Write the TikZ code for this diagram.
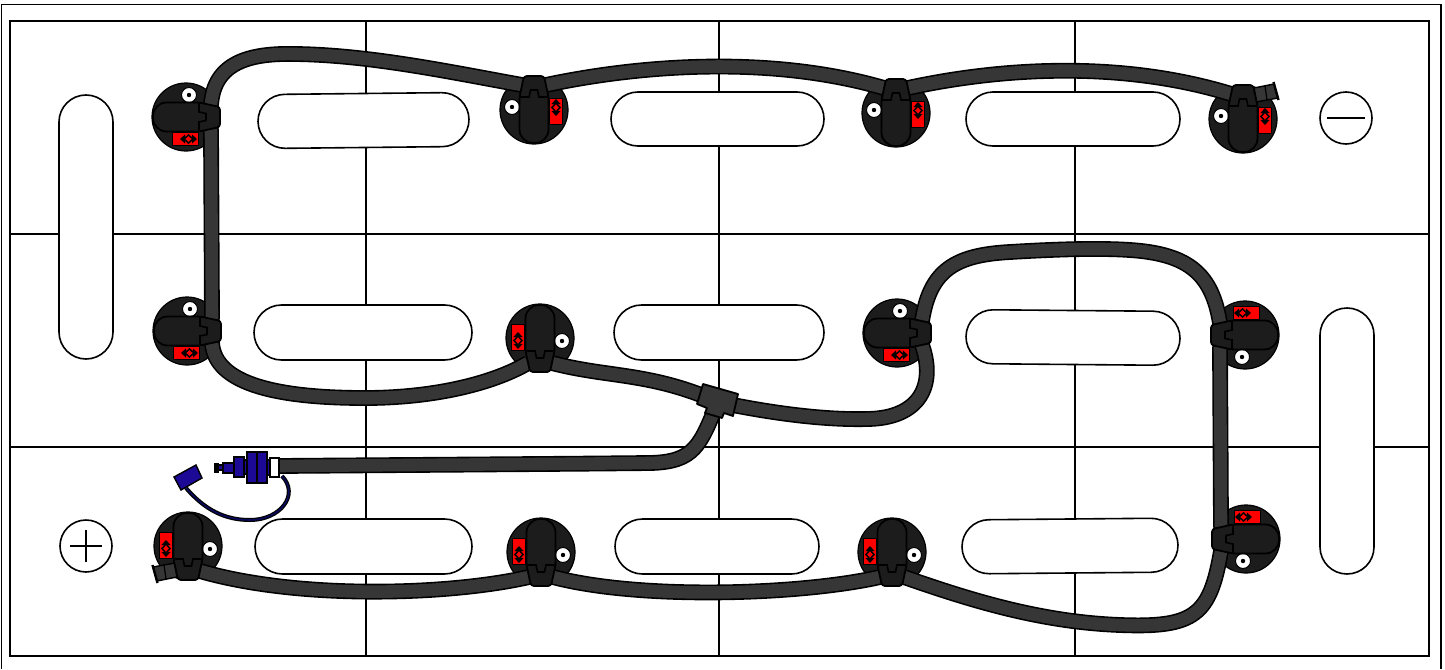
\documentclass[tikz,border=0pt]{standalone}
\usetikzlibrary{shapes.misc}
\definecolor{cablegray}{HTML}{363636}
\definecolor{gripblack}{HTML}{1C1C1C}
\definecolor{plugblue}{HTML}{1C0A96}
\definecolor{wirenavy}{HTML}{0A0A5A}
\tikzset{
  slot/.style={draw, fill=white, line width=1.6pt, rounded rectangle, inner sep=0pt},
  symbol/.style={draw, fill=white, line width=1.6pt, circle, inner sep=0pt, minimum size=52pt},
  cable/.style={line width=1.6pt, double=cablegray, double distance=12.6pt},
  wire/.style={line width=1.2pt, double=wirenavy, double distance=1.6pt},
  bluepart/.style={draw, fill=plugblue, line width=1.4pt},
  grip/.style={draw, fill=gripblack, line width=1.8pt, line join=round},
  postbase/.pic={
    \fill[gripblack, draw=black, line width=1.2pt] (0,0) circle [radius=34pt];
    \fill[red] (15.5,-12) rectangle (28.5,14);
    \draw[line width=0.6pt] (15.5,-12) rectangle (28.5,14);
    \fill (22,-11) -- (26.5,-6) -- (17.5,-6) -- cycle;
    \fill (22,6) -- (26.5,1) -- (17.5,1) -- cycle;
    \draw[line width=1.5pt] (22,-7) -- (26,-2.5) -- (22,2) -- (18,-2.5) -- cycle;
    \draw[fill=white, draw=black, line width=1pt] (-22,-3) circle [radius=7.5pt];
    \fill (-22,-3) circle [radius=2.2pt];
    \coordinate (-a) at (-12,-25);
    \coordinate (-b) at (12,-25);
  },
  postgrip/.pic={
    \draw[grip] [rounded corners=3pt] (-10,-34) -- (10,-34) -- (14.5,-13)
      [rounded corners=13.5pt] -- (14.5,33) -- (-14.5,33)
      [rounded corners=3pt] -- (-14.5,-13) -- cycle;
    \draw[line width=1.6pt] (-14.5,-13) -- (-4,-13);
    \draw[line width=1.6pt] (4,-13) -- (14.5,-13);
    \draw[line width=1.6pt] (-5,-13) -- (-3.5,-20) -- (3.5,-20) -- (5,-13);
  },
  postend/.pic={
    \draw[fill=cablegray, line width=1.4pt] (11,-31) -- (31,-35) -- (35,-21) -- (13,-17) -- cycle;
    \draw[line width=1.2pt] (22,-33) -- (24,-19);
    \draw[line width=2.4pt] (30.5,-37) -- (35.5,-19);
  },
}
% name/x/y/turn
\newcommand{\postlist}{p1/186/117/-90, p2/534/110/0, p3/896/113/0, p4/1243/119/0,
  p5/187/331/-90, p6/540/338/180, p7/897/333/-90, p8/1245/335/90,
  p9/188/546/180, p10/541/552/180, p11/892/552/180, p12/1246/539/90}
\begin{document}
\begin{tikzpicture}[x=1pt, y=-1pt]
\useasboundingbox (0,0) rectangle (1445,669);
\fill[white] (0,0) rectangle (1445,669);
\draw[line width=1.4pt] (1.5,669) -- (1.5,4.5) -- (1441,4.5) -- (1441,669);
\draw[line width=2pt] (10,21) rectangle (1429,656);
% cell walls
\foreach \wx in {366,719,1075}
  \draw[line width=1.6pt] (\wx,21) -- (\wx,656);
\foreach \wy in {234,447}
  \draw[line width=1.6pt] (10,\wy) -- (1429,\wy);
% slots
\node[slot, minimum width=211pt, minimum height=54pt, rotate=0.6] (s1) at (363.5,120.5) {};
\node[slot, minimum width=213pt, minimum height=54pt] (s2) at (717.5,119) {};
\node[slot, minimum width=214pt, minimum height=54pt] (s3) at (1073,119) {};
\node[slot, minimum width=218pt, minimum height=55pt] (s4) at (363,332.5) {};
\node[slot, minimum width=210pt, minimum height=55pt] (s5) at (719,332.5) {};
\node[slot, minimum width=214pt, minimum height=54pt, rotate=-0.5] (s6) at (1073,337.5) {};
\node[slot, minimum width=217pt, minimum height=55pt] (s7) at (363.5,546.5) {};
\node[slot, minimum width=204pt, minimum height=55pt] (s8) at (717,546.5) {};
\node[slot, minimum width=216pt, minimum height=54pt, rotate=0.5] (s9) at (1070,546) {};
\node[slot, minimum width=264pt, minimum height=54pt, rotate=90] (s10) at (86,227) {};
\node[slot, minimum width=266pt, minimum height=54pt, rotate=90] (s11) at (1347,441) {};
% plus and minus
\node[symbol] (minus) at (1346,118) {};
\draw[line width=1.6pt, shorten >=8pt, shorten <=8pt] (minus.west) -- (minus.east);
\node[symbol] (plus) at (86,546) {};
\draw[line width=1.6pt, shorten >=11pt, shorten <=11pt] (plus.west) -- (plus.east);
\draw[line width=1.6pt, shorten >=11pt, shorten <=11pt] (plus.north) -- (plus.south);
% posts
\foreach \post/\px/\py/\turn in \postlist
  \pic[rotate=\turn] (\post) at (\px,\py) {postbase};
\coordinate (tee) at (718,402);
\coordinate (plug) at (279,466);
\coordinate (capneck) at (186,488);
\coordinate (plugneck) at (282,476);
% cables
\draw[wire] (capneck) .. controls (205,510) and (225,520) .. (250,520)
  .. controls (280,520) and (300,495) .. (plugneck);
\draw[cable] (p1-a) .. controls (214,62) and (250,53) .. (295,54)
  .. controls (370,55) and (450,72) .. (p2-a);
\draw[cable] (p2-b) .. controls (640,65) and (770,55) .. (p3-a);
\draw[cable] (p3-b) .. controls (1000,68) and (1120,60) .. (p4-a);
\draw[cable] (p1-b) -- (p5-a);
\draw[cable] (p5-b) .. controls (215,385) and (280,398) .. (365,398)
  .. controls (430,398) and (490,385) .. (p6-b);
\draw[cable] (p6-a) .. controls (610,378) and (650,372) .. (tee);
\draw[cable] (tee) .. controls (780,415) and (830,420) .. (868,419)
  .. controls (920,418) and (936,385) .. (p7-b);
\draw[cable] (tee) .. controls (700,445) and (695,462) .. (650,463)
  .. controls (560,464) and (400,465) .. (plug);
\draw[cable] (p7-a) .. controls (930,270) and (955,255) .. (1010,252)
  .. controls (1060,249) and (1100,248) .. (1130,250)
  .. controls (1190,254) and (1212,275) .. (p8-b);
\draw[cable] (p8-a) -- (p12-b);
\draw[cable] (p12-a) .. controls (1210,615) and (1195,628) .. (1120,625)
  .. controls (1040,622) and (970,600) .. (p11-a);
\draw[cable] (p11-b) .. controls (800,595) and (640,600) .. (p10-a);
\draw[cable] (p10-b) .. controls (450,595) and (300,600) .. (p9-a);
% grips on top of the cables
\pic at (1243,119) {postend};
\pic[rotate=180] at (188,546) {postend};
\foreach \post/\px/\py/\turn in \postlist
  \pic[rotate=\turn] at (\px,\py) {postgrip};
\draw[fill=cablegray, line width=1.8pt, line join=round] (703,384) -- (738,394) -- (733,416) -- (724,413)
  -- (722,418) -- (705,413) -- (707,408) -- (697,404) -- cycle;
% plug and its cap
\draw[fill=white, line width=1.4pt] (270,458) rectangle (279,477);
\draw[bluepart] (247,452) rectangle (257,483);
\draw[bluepart] (257,452) rectangle (267,483);
\draw[bluepart] (267,460) rectangle (270,475);
\draw[bluepart] (234,457) rectangle (244,477);
\draw[bluepart] (244,460) rectangle (247,474);
\draw[bluepart] (223,463) rectangle (234,473);
\draw[bluepart] (218,465) rectangle (223,470);
\draw[fill=black, draw=black] (214,463) rectangle (218,472);
\draw[bluepart] (174,477) -- (196,465) -- (202,478) -- (181,490) -- cycle;
\end{tikzpicture}
\end{document}
